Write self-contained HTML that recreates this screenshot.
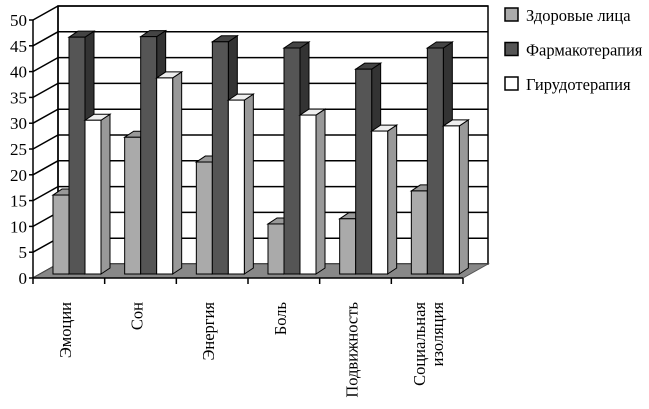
<!DOCTYPE html>
<html><head><meta charset="utf-8"><style>
html,body{margin:0;padding:0;background:#fff;}
svg{display:block;font-family:"Liberation Serif",serif;}
</style></head><body>
<svg id="chart" width="649" height="409" viewBox="0 0 649 409"></svg>
<script>
const categories=["Эмоции","Сон","Энергия","Боль","Подвижность","Социальная|изоляция"];
const healthy=[15.3,26.5,21.7,9.7,10.7,16.1];
const pharma=[45.9,46,45,43.8,39.7,43.8];
const hirudo=[29.8,38,33.7,30.8,27.7,28.7];
const yTicks=[0,5,10,15,20,25,30,35,40,45,50];
const seriesNames=["Здоровые лица","Фармакотерапия","Гирудотерапия"];

const NS="http://www.w3.org/2000/svg";
const svg=document.getElementById('chart');
function el(tag,attrs,parent){const e=document.createElementNS(NS,tag);for(const k in attrs)e.setAttribute(k,attrs[k]);(parent||svg).appendChild(e);return e;}
const X0=33,X1=463,Y0=278,PPU=5.16,DX=25,DY=-14;
const catW=(X1-X0)/categories.length;
function yFront(v){return Y0-v*PPU;}
const wall=el('polygon',{points:`${X0+DX},${Y0+DY} ${X0+DX},${yFront(50)+DY} ${X1+DX},${yFront(50)+DY} ${X1+DX},${Y0+DY}`,fill:'#fff',stroke:'#000','stroke-width':1.5});

yTicks.forEach(v=>{
  const y=yFront(v);
  const g=el('polyline',{points:`${X0},${y} ${X0+DX},${y+DY} ${X1+DX},${y+DY}`,fill:'none',stroke:'#000','stroke-width':1.5});
  
  const t=el('text',{x:X0-6,y:y+6,'text-anchor':'end','font-size':17});
  t.textContent=v;
  
  el('line',{x1:X0-4,y1:y,x2:X0,y2:y,stroke:'#000','stroke-width':1.5});
});
el('line',{x1:X0+DX,y1:yFront(50)+DY,x2:X0+DX,y2:Y0+DY,stroke:'#000','stroke-width':1.5});
const floor=el('polygon',{points:`${X0},${Y0} ${X0+DX},${Y0+DY} ${X1+DX},${Y0+DY} ${X1},${Y0}`,fill:'#888',stroke:'#555','stroke-width':1});

const ya=el('line',{x1:X0,y1:yFront(50),x2:X0,y2:Y0,stroke:'#000','stroke-width':1.5});

const xa=el('line',{x1:X0,y1:Y0,x2:X1,y2:Y0,stroke:'#000','stroke-width':1.5});

for(let i=0;i<=categories.length;i++){const x=X0+i*catW;el('line',{x1:x,y1:Y0,x2:x,y2:Y0+6,stroke:'#000','stroke-width':1.5});}
const fronts=['#aaa','#555','#fff'],sides=['#888','#333','#999'],tops=['#999','#444','#eee'];
const BW=16,SD=9,ST=6,baseY=274;
const series=[healthy,pharma,hirudo];
categories.forEach((c,i)=>{
  const gx=X0+i*catW+20;
  series.forEach((arr,s)=>{
    const x=gx+s*16,h=arr[i]*PPU,top=baseY-h;
    const g=el('g',{});
    
    el('polygon',{points:`${x+BW},${top} ${x+BW+SD},${top-ST} ${x+BW+SD},${baseY-ST} ${x+BW},${baseY}`,fill:sides[s],stroke:'#000','stroke-width':1},g);
    el('polygon',{points:`${x},${top} ${x+SD},${top-ST} ${x+BW+SD},${top-ST} ${x+BW},${top}`,fill:tops[s],stroke:'#000','stroke-width':1},g);
    el('rect',{x:x,y:top,width:BW,height:h,fill:fronts[s],stroke:'#000','stroke-width':1},g);
  });
  const lx=X0+i*catW+catW/2+2;
  const lines=c.split('|');
  lines.forEach((ln,k)=>{
    const xx=lx+(lines.length>1?(k*18-4):0);
    const t=el('text',{x:xx,y:302,'text-anchor':'end','font-size':16.5,transform:`rotate(-90 ${xx} 302)`});
    t.textContent=ln;
    
  });
});
seriesNames.forEach((n,s)=>{
  const y=8+s*34.5;
  const g=el('g',{});
  
  el('rect',{x:505,y:y,width:13,height:13,fill:fronts[s],stroke:'#000','stroke-width':1.5},g);
  const t=el('text',{x:526,y:y+13,'font-size':16.5},g);t.textContent=n;
});
</script>
</body></html>
